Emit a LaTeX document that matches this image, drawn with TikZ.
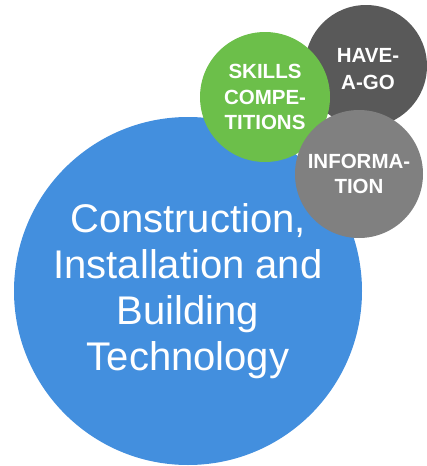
\documentclass[tikz,border=0pt]{standalone}
\usepackage{fontspec}
\setmainfont{Liberation Sans}
\definecolor{techblue}{RGB}{67,143,222}
\definecolor{skillgreen}{RGB}{108,191,74}
\definecolor{havegrey}{RGB}{89,89,89}
\definecolor{infogrey}{RGB}{128,128,128}

\begin{document}
\begin{tikzpicture}[x=1pt, y=-1pt,
  bubble/.style={circle, inner sep=0pt, text=white, align=center,
    font=\bfseries\fontsize{20.5}{25.5}\selectfont}]
  \useasboundingbox (0,0) rectangle (426,466);

  % main topic
  \node [bubble, fill=techblue, minimum size=348pt,
    font=\fontsize{40}{46}\selectfont] (tech) at (188,291)
    {Construction,\\Installation and\\Building\\Technology};

  % the three small bubbles
  \node [bubble, fill=havegrey, minimum size=122pt] (have) at (366,66) {};
  \node [font=\bfseries\fontsize{20.5}{26.5}\selectfont, text=white, align=center,
    inner sep=0pt] (havetext) at (368,69) {HAVE-\\A-GO};
  \node [bubble, fill=skillgreen, minimum size=130pt] (skills) at (265,97)
    {SKILLS\\COMPE-\\TITIONS};
  \node [bubble, fill=infogrey, minimum size=128pt] (info) at (359,174)
    {INFORMA-\\TION};

\end{tikzpicture}
\end{document}
